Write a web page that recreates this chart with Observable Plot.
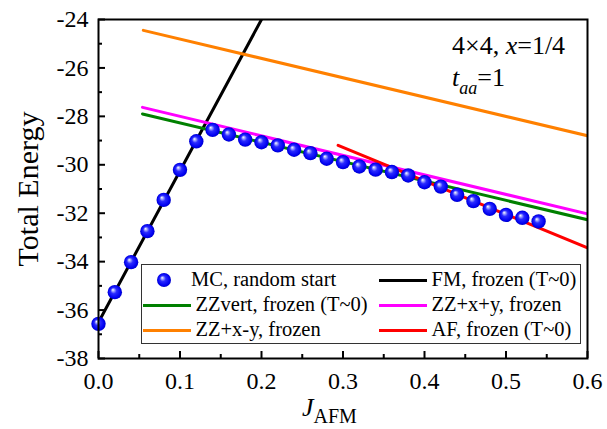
<!DOCTYPE html>
<html>
<head>
<meta charset="utf-8">
<script src="https://cdn.jsdelivr.net/npm/d3@7"></script>
<script src="https://cdn.jsdelivr.net/npm/@observablehq/plot@0.6"></script>
<style>
  html, body { margin: 0; padding: 0; background: #fff; }
  #wrap { position: relative; width: 607px; height: 429px; font-family: "Liberation Serif", Tinos, "Times New Roman", Times, "DejaVu Serif", serif; color: #000; overflow: hidden; }
  #wrap svg { position: absolute; left: 0; top: 0; }
  .abs { position: absolute; white-space: nowrap; line-height: 1; }
  #legend { position: absolute; left: 141px; top: 264px; width: 440px; height: 80px; border: 1px solid #333; background: #fff; box-sizing: border-box; font-size: 20.5px; }
  #legend .sw { position: absolute; height: 3px; width: 48px; }
  #legend .lt { position: absolute; white-space: nowrap; line-height: 1; }
</style>
</head>
<body>
<div id="wrap"></div>
<script>
// ---- data ----
const mcX = [0.00, 0.02, 0.04, 0.06, 0.08, 0.10, 0.12, 0.14, 0.16, 0.18, 0.20, 0.22,
             0.24, 0.26, 0.28, 0.30, 0.32, 0.34, 0.36, 0.38, 0.40, 0.42, 0.44, 0.46, 0.48, 0.50, 0.52, 0.54];
const mcY = [-36.57, -35.26, -34.02, -32.74, -31.45, -30.21, -29.03, -28.56, -28.75, -28.96, -29.07, -29.20,
             -29.38, -29.52, -29.75, -29.89, -30.07, -30.20, -30.30, -30.44, -30.72, -30.90, -31.24, -31.50, -31.82, -32.07, -32.19, -32.34];

const fmX = [0.0, 0.2];        const fmY = [-36.5, -24.0];
const zzVertX = [0.054, 0.6];  const zzVertY = [-27.90, -32.27];
const zzPPX = [0.054, 0.6];    const zzPPY = [-27.63, -32.03];
const zzPMX = [0.055, 0.6];    const zzPMY = [-24.45, -28.80];
const afX = [0.294, 0.6];      const afY = [-29.20, -33.43];

const seriesNames = ["MC, random start", "FM, frozen (T~0)", "ZZvert, frozen (T~0)", "ZZ+x+y, frozen", "ZZ+x-y, frozen", "AF, frozen (T~0)"];
const seriesColors = ["#0000ff", "#000000", "#008000", "#ff00ff", "#ff8000", "#ff0000"];

const xTicks = [0.0, 0.1, 0.2, 0.3, 0.4, 0.5, 0.6];
const xTickLabels = ["0.0", "0.1", "0.2", "0.3", "0.4", "0.5", "0.6"];
const xMinor = [0.05, 0.15, 0.25, 0.35, 0.45, 0.55];
const yTicks = [-38, -36, -34, -32, -30, -28, -26, -24];
const yTickLabels = ["-38", "-36", "-34", "-32", "-30", "-28", "-26", "-24"];
const yMinor = [-37, -35, -33, -31, -29, -27, -25];

// ---- build ----
const FONT = "'Liberation Serif', Tinos, 'Times New Roman', Times, 'DejaVu Serif', serif";
const mc = mcX.map((x, i) => ({x, y: mcY[i]}));
const lineSeries = [
  {x: fmX, y: fmY, c: seriesColors[1]},
  {x: zzVertX, y: zzVertY, c: seriesColors[2]},
  {x: zzPPX, y: zzPPY, c: seriesColors[3]},
  {x: zzPMX, y: zzPMY, c: seriesColors[4]},
  {x: afX, y: afY, c: seriesColors[5]}
];
const xLab = new Map(xTicks.map((t, i) => [t, xTickLabels[i]]));
const yLab = new Map(yTicks.map((t, i) => [t, yTickLabels[i]]));

const chart = Plot.plot({
  width: 607, height: 429,
  marginLeft: 98, marginRight: 20, marginTop: 19, marginBottom: 71,
  style: {fontFamily: FONT, fontSize: "24px", background: "white", color: "black", overflow: "visible"},
  x: {domain: [0, 0.6]},
  y: {domain: [-38, -24]},
  marks: [
    ...lineSeries.map(s => Plot.line(s.x.map((x, i) => ({x, y: s.y[i]})), {x: "x", y: "y", stroke: s.c, strokeWidth: 3, clip: true})),
    Plot.dot(mc, {x: "x", y: "y", r: 7.2, fill: "url(#ball)", stroke: "none"}),
    Plot.axisX(xTicks, {tickSize: -7, strokeWidth: 2, fill: "none"}),
    Plot.axisX(xMinor, {tickSize: -4, strokeWidth: 2, fill: "none"}),
    Plot.axisX(xTicks, {tickSize: 0, tickPadding: 13, stroke: "none", tickFormat: d => xLab.get(d), label: null}),
    Plot.axisY(yTicks, {tickSize: -7, strokeWidth: 2, fill: "none"}),
    Plot.axisY(yMinor, {tickSize: -4, strokeWidth: 2, fill: "none"}),
    Plot.axisY(yTicks, {tickSize: 0, tickPadding: 10, stroke: "none", tickFormat: d => yLab.get(d), label: null}),
    Plot.frame({stroke: "black", strokeWidth: 2})
  ]
});
chart.insertAdjacentHTML("afterbegin",
  `<defs><radialGradient id="ball" cx="0.5" cy="0.5" r="0.5" fx="0.36" fy="0.33">
     <stop offset="0" stop-color="#ffffff"/>
     <stop offset="0.15" stop-color="#b0b4ff"/>
     <stop offset="0.42" stop-color="#2a2aff"/>
     <stop offset="0.85" stop-color="#0000f0"/>
     <stop offset="1" stop-color="#0000c8"/>
   </radialGradient></defs>`);

const wrap = document.getElementById("wrap");
wrap.appendChild(chart);

// axis titles
const yt = document.createElement("div");
yt.className = "abs";
yt.style.cssText = "left:28px;top:189px;font-size:30px;transform:translate(-50%,-50%) rotate(-90deg);";
yt.textContent = "Total Energy";
wrap.appendChild(yt);

const xt = document.createElement("div");
xt.className = "abs";
xt.style.cssText = "left:302px;top:395px;";
xt.innerHTML = '<span style="font-size:26px;font-style:italic">J</span><span style="font-size:20px;position:relative;top:7px">AFM</span>';
wrap.appendChild(xt);

// annotation
const an1 = document.createElement("div");
an1.className = "abs";
an1.style.cssText = "left:452px;top:33px;font-size:26px;";
an1.innerHTML = '4×4, <i>x</i>=1/4';
wrap.appendChild(an1);
const an2 = document.createElement("div");
an2.className = "abs";
an2.style.cssText = "left:452px;top:65px;font-size:26px;";
an2.innerHTML = '<i>t</i><span style="font-size:18px;position:relative;top:8px;font-style:italic">aa</span>=1';
wrap.appendChild(an2);

// legend
const lg = document.createElement("div");
lg.id = "legend";
const rows = [
  {name: seriesNames[0], col: 0, row: 0, dot: true},
  {name: seriesNames[1], col: 1, row: 0, c: seriesColors[1]},
  {name: seriesNames[2], col: 0, row: 1, c: seriesColors[2]},
  {name: seriesNames[3], col: 1, row: 1, c: seriesColors[3]},
  {name: seriesNames[4], col: 0, row: 2, c: seriesColors[4]},
  {name: seriesNames[5], col: 1, row: 2, c: seriesColors[5]}
];
const colSw = [1, 237], colTx = [53.5, 289.5];
rows.forEach(r => {
  const cy = 15 + r.row * 25;
  if (r.dot) {
    const s = document.createElementNS("http://www.w3.org/2000/svg", "svg");
    s.setAttribute("width", 16); s.setAttribute("height", 16);
    s.style.cssText = `position:absolute;left:${13.5}px;top:${cy - 8}px;`;
    s.innerHTML = '<circle cx="8" cy="8" r="7" fill="url(#ball)"/>';
    lg.appendChild(s);
  } else {
    const d = document.createElement("div");
    d.className = "sw";
    d.style.cssText = `left:${colSw[r.col]}px;top:${cy - 1.5}px;background:${r.c};`;
    lg.appendChild(d);
  }
  const t = document.createElement("div");
  t.className = "lt";
  const tx = r.dot ? 49 : colTx[r.col];
  t.style.cssText = `left:${tx}px;top:${cy - 11.5}px;`;
  t.textContent = r.name;
  lg.appendChild(t);
});
wrap.appendChild(lg);
</script>
</body>
</html>
